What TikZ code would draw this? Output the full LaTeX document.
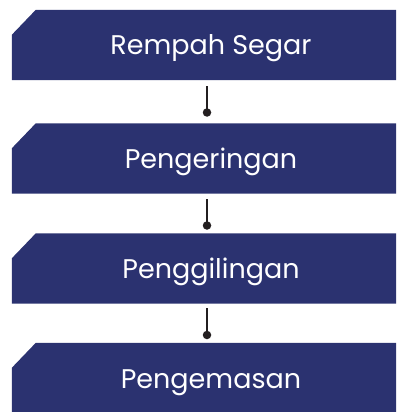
\documentclass[tikz,border=0pt]{standalone}
\usepackage{fontspec}
\setmainfont{Poppins}
\usetikzlibrary{calc}
\definecolor{boxblue}{RGB}{43,50,112}
\definecolor{conncol}{RGB}{35,31,32}
\tikzset{
  stepbox/.style={rectangle, draw=none, inner sep=0pt, minimum width=384pt, minimum height=70pt},
  steptext/.style={anchor=base, text=white, inner sep=0pt, font=\fontsize{27}{30}\selectfont},
  conn/.style={draw=conncol, line width=2.5pt},
  dotend/.style={circle, fill=conncol, inner sep=0pt, minimum size=8.5pt}
}
\newcommand{\chamferfill}[1]{%
  \fill[boxblue] (#1.south west) -- ($(#1.north west)+(0,25)$) -- ($(#1.north west)+(24,0)$)
    -- (#1.north east) -- (#1.south east) -- cycle;}
\begin{document}
\begin{tikzpicture}[x=1pt,y=-1pt]
\useasboundingbox (0,0) rectangle (396,412);
\node[stepbox] (b1) at (204,45) {};
\node[stepbox] (b2) at (204,158.5) {};
\node[stepbox] (b3) at (204,268.5) {};
\node[stepbox] (b4) at (204,378) {};
\chamferfill{b1}
\chamferfill{b2}
\chamferfill{b3}
\chamferfill{b4}
\node[steptext] (t1) at (211,55) {Rempah Segar};
\node[steptext] (t2) at (211,168.5) {Pengeringan};
\node[steptext] (t3) at (211,278.5) {Penggilingan};
\node[steptext] (t4) at (211,388) {Pengemasan};
\node[dotend] (d1) at (207,112.5) {};
\node[dotend] (d2) at (207,225.5) {};
\node[dotend] (d3) at (207,335) {};
\coordinate (s1) at (207,86);
\coordinate (s2) at (207,199);
\coordinate (s3) at (207,308);
\draw[conn] (s1) -- (d1.center);
\draw[conn] (s2) -- (d2.center);
\draw[conn] (s3) -- (d3.center);
\end{tikzpicture}
\end{document}
